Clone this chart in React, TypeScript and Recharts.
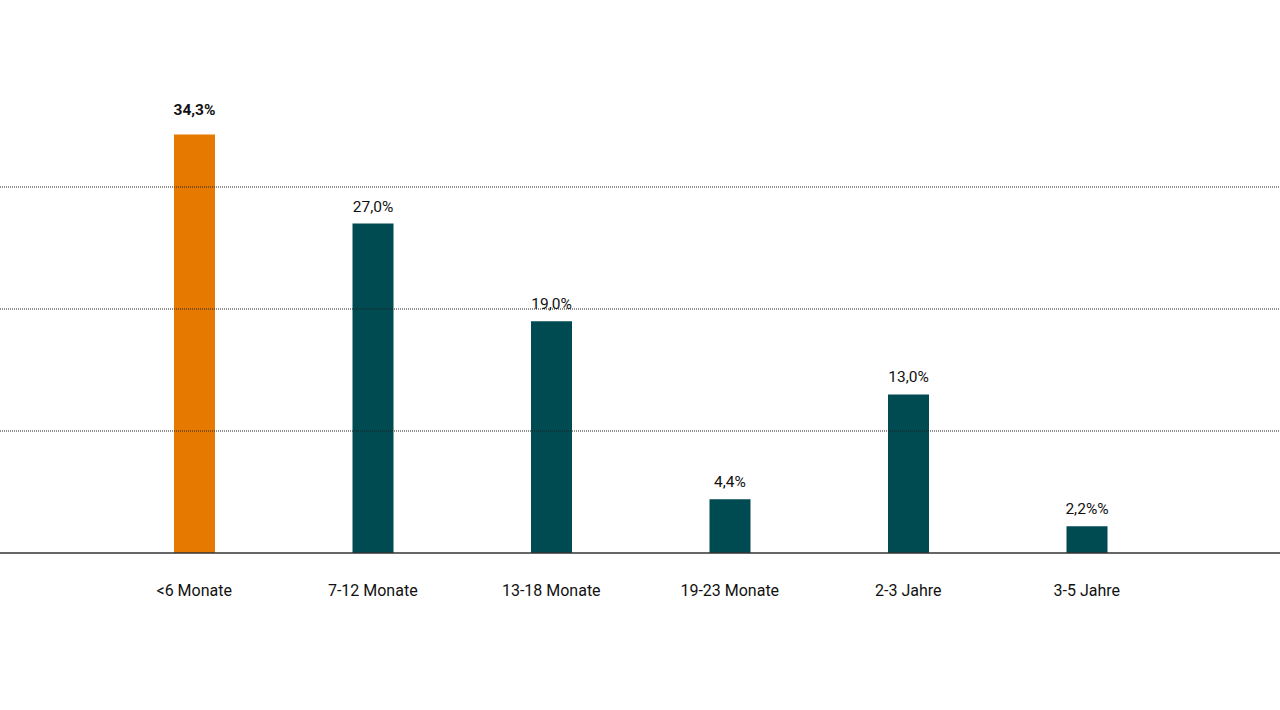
import { BarChart, Bar, XAxis, YAxis, ReferenceLine, Cell, LabelList } from "recharts";

const CATEGORIES = ["<6 Monate", "7-12 Monate", "13-18 Monate", "19-23 Monate", "2-3 Jahre", "3-5 Jahre"];
const VALUES = [34.3, 27.0, 19.0, 4.4, 13.0, 2.2];
const VALUE_LABELS = ["34,3%", "27,0%", "19,0%", "4,4%", "13,0%", "2,2%%"];
const GRID_VALUES = [10, 20, 30];

const ORANGE = "#e67a00";
const TEAL = "#004a52";

const data = CATEGORIES.map((name, i) => ({ name, value: VALUES[i], label: VALUE_LABELS[i] }));

const ValueLabel = (props: any) => {
  const { x, y, width, index } = props;
  const first = index === 0;
  return (
    <text
      x={x + width / 2}
      y={y - (first ? 20 : 12)}
      textAnchor="middle"
      fontSize={15.5}
      fontWeight={first ? 700 : 400}
      fill="#111"
      fontFamily="Roboto, sans-serif"
    >
      {VALUE_LABELS[index]}
    </text>
  );
};

export default function App() {
  return (
    <div style={{ position: "absolute", left: 0, top: 0, width: 1280, height: 710, background: "#fff", fontFamily: "Roboto, sans-serif" }}>
      <BarChart width={1280} height={710} data={data} margin={{ top: 65, right: 0, bottom: 0, left: 0 }}>
        <YAxis hide domain={[0, 40]} ticks={[0, 10, 20, 30, 40]} />
        {GRID_VALUES.map((v) => (
          <ReferenceLine key={v} y={v} stroke="#222" strokeDasharray="1 1" />
        ))}
        <XAxis
          dataKey="name"
          height={157}
          padding={{ left: 105, right: 104 }}
          axisLine={{ stroke: "#333", strokeWidth: 1.5 }}
          tickLine={false}
          tickMargin={26}
          tick={{ fontSize: 16, fill: "#111", fontFamily: "Roboto, sans-serif" }}
          interval={0}
        />
        <Bar dataKey="value" barSize={41} isAnimationActive={false}>
          {data.map((_, i) => (
            <Cell key={i} fill={i === 0 ? ORANGE : TEAL} />
          ))}
          <LabelList dataKey="label" content={ValueLabel} />
        </Bar>
      </BarChart>
    </div>
  );
}
